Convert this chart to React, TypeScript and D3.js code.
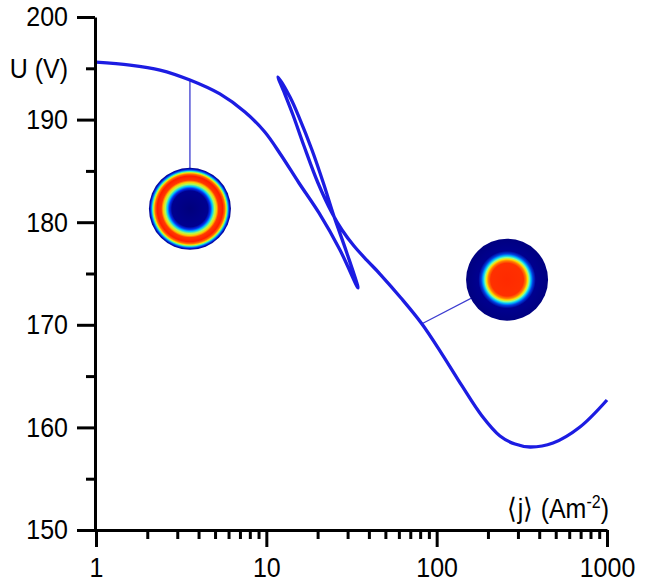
import React, { useEffect, useRef } from "react";
import * as d3 from "d3";

const W = 650;
const H = 583;

// current density <j> (A m^-2) and voltage U (V), in path order:
// lower branch -> lower cusp -> middle branch -> upper cusp -> upper branch
const jValues = [
  1, 1.583, 2.375, 3.56, 5.34, 7.49, 9.8, 12.19, 15.55, 20.38, 27.07, 34.53,
  29.56, 24.8, 21.81, 18.54, 15.55, 13.77, 11.71,
  12.7, 14.34, 16.64, 20.11, 24.3, 27.82, 32.72, 39.0, 46.5, 61.75, 82.0, 107.5, 140.9, 184.6, 235.4, 288.4, 353.2, 482, 694, 1000,
];
const uValues = [
  195.61, 195.32, 194.83, 193.86, 192.5, 190.74, 188.79, 186.55, 183.82, 180.9, 177.29, 173.59,
  177.1, 180.7, 183.63, 187.04, 190.25, 192.2, 194.15,
  192.69, 190.45, 187.43, 183.82, 180.9, 179.24, 177.68, 176.28, 174.95, 172.61, 170.08, 167.15, 164.04, 161.11, 159.16, 158.38, 158.09, 158.48, 160.04, 162.67,
];

const yMajorTicks = [150, 160, 170, 180, 190, 200];
const yMinorTicks = [155, 165, 175, 185, 195];
const xMajorTicks = [1, 10, 100, 1000];
const xMinorTicks = [2, 3, 4, 5, 6, 7, 8, 9, 20, 30, 40, 50, 60, 70, 80, 90, 200, 300, 400, 500, 600, 700, 800, 900];

// insets: where the line leaves the curve, and where the disc sits
const anchorJ = [3.56, 82];
const anchorU = [193.8, 170.1];
const insetJ = [3.56, 259];
const insetU = [181.3, 174.4];

// radial colour profiles of the two discs (jet colormap)
const ringOffsets = [0, 0.44, 0.5, 0.55, 0.6, 0.65, 0.7, 0.8, 0.85, 0.88, 0.91, 0.94, 0.97, 1];
const ringColors = ["#00007c", "#000090", "#0030f0", "#00c8ff", "#a8ff58", "#ffcc00", "#ff3a00", "#ff1c00", "#ff7000", "#ffe000", "#40ffb0", "#0070ff", "#0010c0", "#000088"];
const spotOffsets = [0, 0.4, 0.46, 0.5, 0.54, 0.58, 0.63, 0.7, 1];
const spotColors = ["#ff2a00", "#ff3000", "#ff8000", "#ffe000", "#80ffa0", "#00c0ff", "#0040e0", "#00008f", "#000080"];

const FONT = "'Liberation Sans', Arial, sans-serif";
const SY = 1.12; // the source text is a little taller than wide

function drawChart(node: SVGSVGElement) {
  const svg = d3.select(node);
  svg.selectAll("*").remove();

  const x = d3.scaleLog().domain([1, 1000]).range([96, 607]);
  const y = d3.scaleLinear().domain([150, 200]).range([530, 17]);

  const defs = svg.append("defs");
  const grads = [
    { id: "ring", offs: ringOffsets, cols: ringColors },
    { id: "spot", offs: spotOffsets, cols: spotColors },
  ];
  grads.forEach((g) => {
    const rg = defs.append("radialGradient").attr("id", g.id);
    g.offs.forEach((o, i) => {
      rg.append("stop").attr("offset", o).attr("stop-color", g.cols[i]);
    });
  });

  // connectors + inset discs
  const ins = svg.append("g");
  insetJ.forEach((jv, i) => {
    ins.append("line")
      .attr("x1", x(anchorJ[i]))
      .attr("y1", y(anchorU[i]))
      .attr("x2", x(jv))
      .attr("y2", y(insetU[i]))
      .attr("stroke", "#3c3cd0")
      .attr("stroke-width", 1.3);
    ins.append("circle")
      .attr("cx", x(jv))
      .attr("cy", y(insetU[i]))
      .attr("r", 41)
      .attr("fill", `url(#${i === 0 ? "ring" : "spot"})`);
  });

  // curve
  const pts = jValues.map((j, i) => ({ j, u: uValues[i] }));
  const line = d3
    .line<{ j: number; u: number }>()
    .x((d) => x(d.j))
    .y((d) => y(d.u))
    .curve(d3.curveCatmullRom.alpha(0.5));
  svg.append("path")
    .datum(pts)
    .attr("fill", "none")
    .attr("stroke", "#1c1ce2")
    .attr("stroke-width", 3.3)
    .attr("stroke-linejoin", "round")
    .attr("d", line);

  // axes
  const yAxis = svg.append("g").attr("transform", "translate(95,0)");
  yAxis.call(
    d3.axisLeft(y).tickValues(yMajorTicks).tickSize(18).tickSizeOuter(0).tickPadding(9)
  );
  const yMinor = svg.append("g").attr("transform", "translate(95,0)");
  yMinor.call(d3.axisLeft(y).tickValues(yMinorTicks).tickSize(9).tickFormat(() => ""));
  yMinor.select(".domain").remove();

  const xAxis = svg.append("g").attr("transform", "translate(0,530)");
  xAxis.call(
    d3.axisBottom(x).tickValues(xMajorTicks).tickSize(17).tickSizeOuter(0)
      .tickFormat(d3.format("d"))
  );
  const xMinor = svg.append("g").attr("transform", "translate(0,530)");
  xMinor.call(d3.axisBottom(x).tickValues(xMinorTicks).tickSize(9).tickFormat(() => ""));
  xMinor.select(".domain").remove();

  svg.selectAll(".domain").attr("stroke", "#000").attr("stroke-width", 3);
  svg.selectAll(".tick line").attr("stroke", "#000").attr("stroke-width", 3);
  svg.selectAll(".tick text")
    .attr("font-family", FONT)
    .attr("font-size", 25)
    .attr("fill", "#000")
    .attr("transform", `scale(1,${SY})`);
  xAxis.selectAll(".tick text").attr("y", 24.5);

  // axis titles
  svg.append("text")
    .attr("x", 68)
    .attr("y", y(195) / SY)
    .attr("dy", "0.35em")
    .attr("transform", `scale(1,${SY})`)
    .attr("text-anchor", "end")
    .attr("font-family", FONT)
    .attr("font-size", 25)
    .text("U (V)");

  const xt = svg.append("text")
    .attr("x", 609)
    .attr("y", 518 / SY)
    .attr("transform", `scale(1,${SY})`)
    .attr("text-anchor", "end")
    .attr("font-family", FONT)
    .attr("font-size", 25);
  xt.append("tspan").text("\u27E8j\u27E9 (Am");
  xt.append("tspan").attr("dy", -9).attr("font-size", 16).text("-2");
  xt.append("tspan").attr("dy", 9).text(")");
}

export default function App() {
  const ref = useRef<SVGSVGElement>(null);
  useEffect(() => {
    if (ref.current) drawChart(ref.current);
  }, []);
  return (
    <svg
      ref={ref}
      width={W}
      height={H}
      style={{ position: "absolute", left: 0, top: 0, background: "#fff" }}
    />
  );
}
